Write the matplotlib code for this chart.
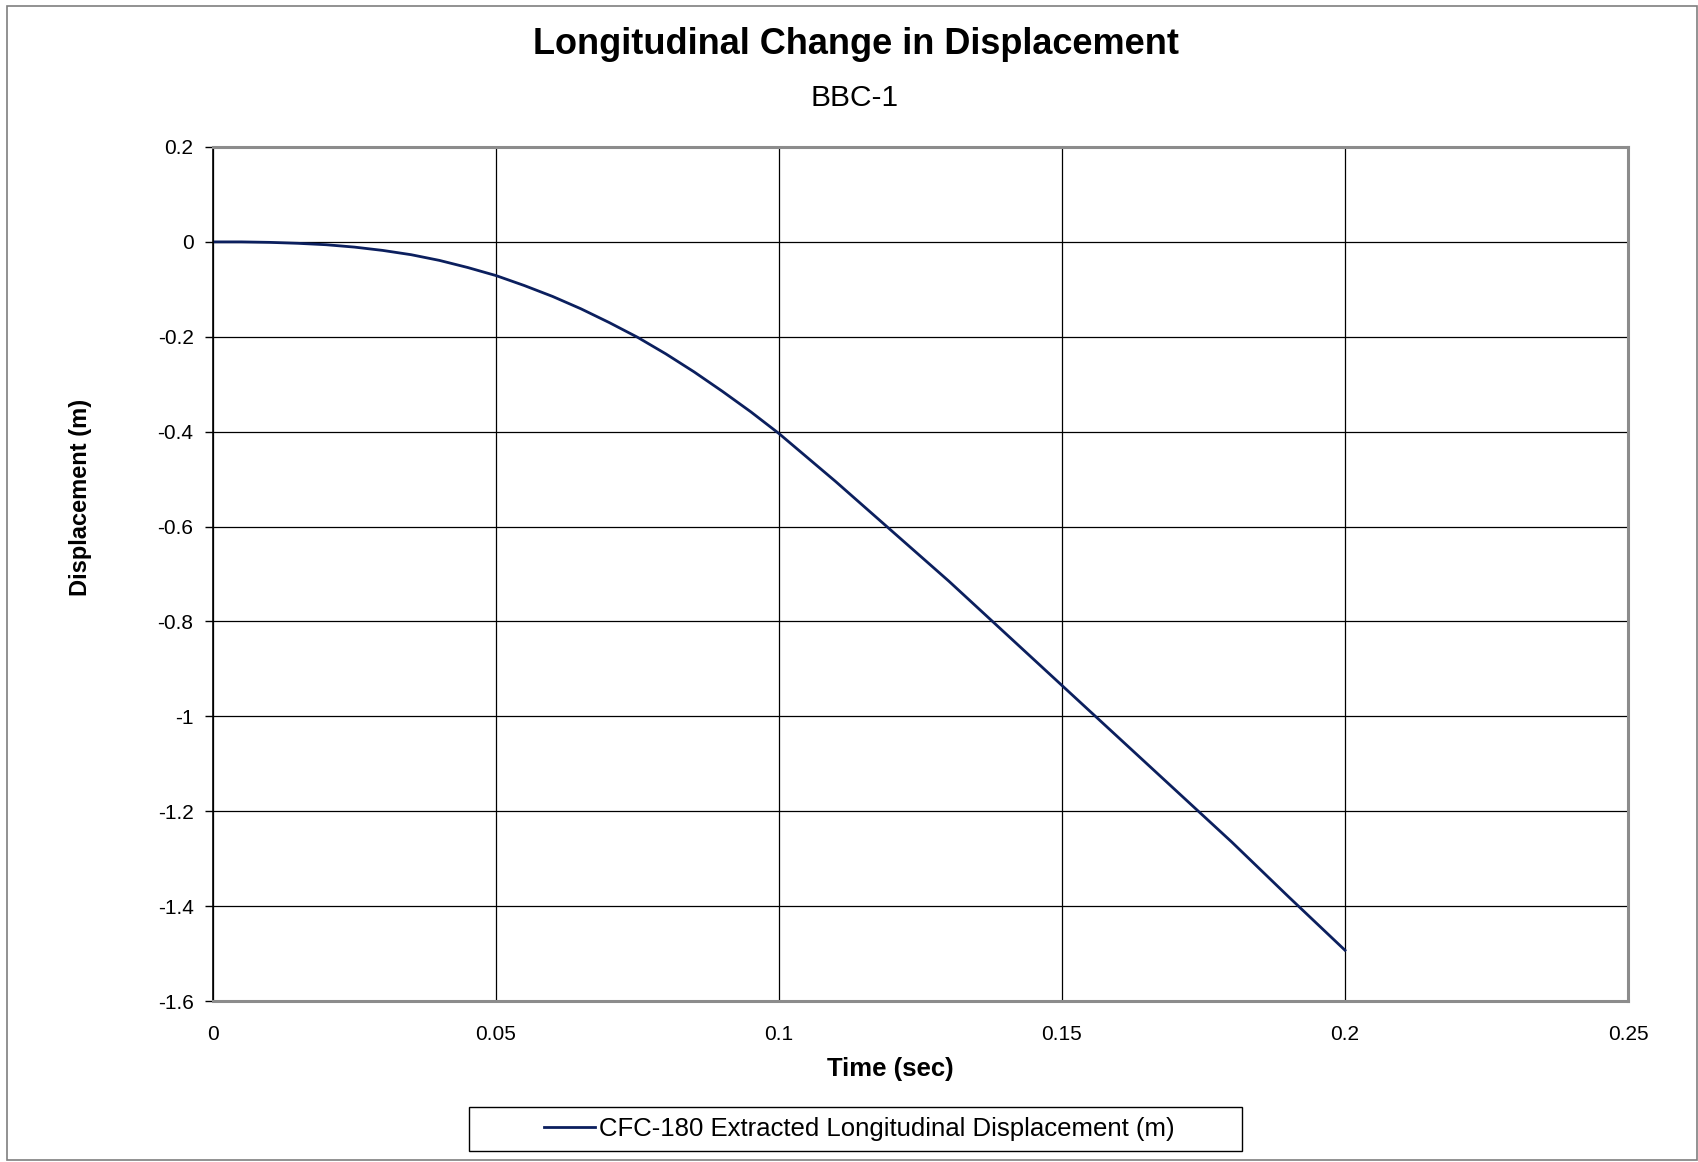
import numpy as np
import matplotlib
matplotlib.use('Agg')
import matplotlib.pyplot as plt
from matplotlib.patches import Rectangle

plt.rcParams['font.family'] = ['Liberation Sans', 'DejaVu Sans']

# Data
time_s = [0, 0.005, 0.01, 0.015, 0.02, 0.025, 0.03, 0.035, 0.04, 0.045,
          0.05, 0.055, 0.06, 0.065, 0.07, 0.075, 0.08, 0.085, 0.09, 0.095,
          0.1, 0.11, 0.12, 0.13, 0.14, 0.15, 0.16, 0.17, 0.18, 0.19, 0.2]
disp_m = [0, 0, -0.001, -0.003, -0.006, -0.011, -0.018, -0.027, -0.039, -0.054,
          -0.071, -0.092, -0.115, -0.141, -0.170, -0.201, -0.236, -0.274, -0.315, -0.358,
          -0.404, -0.505, -0.61, -0.715, -0.825, -0.935, -1.045, -1.155, -1.265, -1.38, -1.493]
x_ticks = [0, 0.05, 0.1, 0.15, 0.2, 0.25]
x_tick_labels = ['0', '0.05', '0.1', '0.15', '0.2', '0.25']
y_ticks = [0.2, 0, -0.2, -0.4, -0.6, -0.8, -1, -1.2, -1.4, -1.6]
y_tick_labels = ['0.2', '0', '-0.2', '-0.4', '-0.6', '-0.8', '-1', '-1.2', '-1.4', '-1.6']

W, H = 1699, 1162
fig = plt.figure(figsize=(W / 100, H / 100), dpi=100)

# outer chart border
fig.patches.append(Rectangle((7 / W, 0.002), 1 - 9 / W, 1 - 6 / H - 0.002,
                             transform=fig.transFigure, fill=False,
                             edgecolor='#7f7f7f', linewidth=1.2))

left, right, top, bottom = 213, 1628, 147, 1001
ax = fig.add_axes([left / W, 1 - bottom / H, (right - left) / W, (bottom - top) / H])

ax.plot(time_s, disp_m, color='#0b1f5e', linewidth=2.0,
        label='CFC-180 Extracted Longitudinal Displacement (m)')

ax.set_xlim(0, 0.25)
ax.set_ylim(-1.6, 0.2)
ax.set_xticks(x_ticks)
ax.set_xticklabels(x_tick_labels)
ax.set_yticks(y_ticks)
ax.set_yticklabels(y_tick_labels)
ax.tick_params(axis='x', length=0, pad=17, labelsize=15)
ax.tick_params(axis='y', length=6, width=1, direction='out', pad=8, labelsize=15)
ax.grid(True, color='black', linewidth=0.9)
ax.set_axisbelow(True)

for side in ['top', 'right', 'bottom']:
    ax.spines[side].set_color('#8c8c8c')
    ax.spines[side].set_linewidth(2.2)
ax.spines['left'].set_color('black')
ax.spines['left'].set_linewidth(1.2)

fig.text(890 / W, 1 - 1069 / H, 'Time (sec)', ha='center', va='center',
         fontsize=18.5, fontweight='bold')
fig.text(81 / W, 1 - 497 / H, 'Displacement (m)', ha='center', va='center',
         rotation=90, fontsize=17, fontweight='bold')

fig.text(856 / W, 1 - 44 / H, 'Longitudinal Change in Displacement',
         ha='center', va='center', fontsize=26, fontweight='bold')
fig.text(855 / W, 1 - 98 / H, 'BBC-1',
         ha='center', va='center', fontsize=21.5)

# legend box is wider than the entry, as in the original
fig.patches.append(Rectangle((469 / W, 1 - 1151 / H), (1242 - 469) / W, 44 / H,
                             transform=fig.transFigure, fill=False,
                             edgecolor='black', linewidth=1.0))
leg = fig.legend(loc='center', bbox_to_anchor=(859 / W, 1 - 1129 / H),
                 fontsize=18.5, frameon=False, handlelength=2.0,
                 handletextpad=0.15, borderpad=0.4, borderaxespad=0)

plt.savefig('out.png', dpi=100)
